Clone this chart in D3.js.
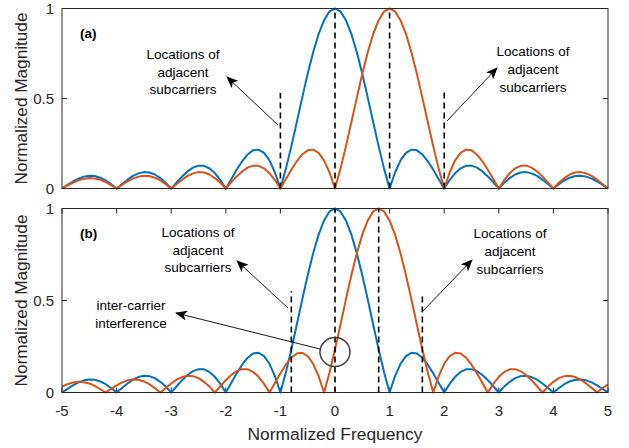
<!DOCTYPE html>
<html><head><meta charset="utf-8">
<script src="https://cdn.jsdelivr.net/npm/d3@7"></script>
<style>
html,body{margin:0;padding:0;background:#fff;}
text{font-family:"Liberation Sans",Arial,Helvetica,sans-serif;}
</style></head>
<body>
<svg id="chart" width="629" height="448"></svg>
<script>
// ---- data ----
const freq = d3.range(101).map(i => +(-5 + i * 0.1).toFixed(1));
const xTicks = [-5, -4, -3, -2, -1, 0, 1, 2, 3, 4, 5];
const yTicks = [0, 0.5, 1];
const yTickLabels = ["0", "0.5", "1"];

// |sinc| magnitude of subcarrier centred at 0 (both panels)
const blueMag = [0,.020,.039,.055,.066,.071,.069,.060,.045,.024,
 0,.025,.049,.070,.084,.091,.089,.078,.058,.032,
 0,.034,.067,.095,.116,.127,.126,.112,.085,.047,
 0,.052,.104,.151,.189,.212,.216,.198,.156,.089,
 0,.109,.234,.368,.505,.637,.757,.858,.935,.984,
 1,.984,.935,.858,.757,.637,.505,.368,.234,.109,
 0,.089,.156,.198,.216,.212,.189,.151,.104,.052,
 0,.047,.085,.112,.126,.127,.116,.095,.067,.034,
 0,.032,.058,.078,.089,.091,.084,.070,.049,.025,
 0,.024,.045,.060,.069,.071,.066,.055,.039,.020,0];

// panel (a): adjacent subcarrier centred at 1
const orangeMagA = [0,.017,.032,.045,.054,.058,.056,.049,.036,.019,
 0,.020,.039,.055,.066,.071,.069,.060,.045,.024,
 0,.025,.049,.070,.084,.091,.089,.078,.058,.032,
 0,.034,.067,.095,.116,.127,.126,.112,.085,.047,
 0,.052,.104,.151,.189,.212,.216,.198,.156,.089,
 0,.109,.234,.368,.505,.637,.757,.858,.935,.984,
 1,.984,.935,.858,.757,.637,.505,.368,.234,.109,
 0,.089,.156,.198,.216,.212,.189,.151,.104,.052,
 0,.047,.085,.112,.126,.127,.116,.095,.067,.034,
 0,.032,.058,.078,.089,.091,.084,.070,.049,.025,0];

// panel (b): adjacent subcarrier with frequency offset, centred at 0.8
const orangeMagB = [.032,.045,.054,.058,.056,.049,.036,.019,
 0,.020,.039,.055,.066,.071,.069,.060,.045,.024,
 0,.025,.049,.070,.084,.091,.089,.078,.058,.032,
 0,.034,.067,.095,.116,.127,.126,.112,.085,.047,
 0,.052,.104,.151,.189,.212,.216,.198,.156,.089,
 0,.109,.234,.368,.505,.637,.757,.858,.935,.984,
 1,.984,.935,.858,.757,.637,.505,.368,.234,.109,
 0,.089,.156,.198,.216,.212,.189,.151,.104,.052,
 0,.047,.085,.112,.126,.127,.116,.095,.067,.034,
 0,.032,.058,.078,.089,.091,.084,.070,.049,.025,
 0,.024,.045];

// dashed marker lines: [x, top value]
const dashesA = [[-1, 0.53], [0, 1], [1, 1], [2, 0.55]];
const dashesB = [[-0.8, 0.55], [0, 1], [0.8, 1], [1.6, 0.54]];

const annotText = ["Locations of", "adjacent", "subcarriers"];
const iciText = ["inter-carrier", "interference"];

// ---- drawing ----
const svg = d3.select("#chart");
const blue = "#0072BD", orange = "#D95319", axisCol = "#262626", txtCol = "#262626";

const defs = svg.append("defs");
defs.append("marker").attr("id", "ah").attr("viewBox", "0 0 12 10")
  .attr("refX", 11).attr("refY", 5).attr("markerWidth", 12).attr("markerHeight", 10)
  .attr("markerUnits", "userSpaceOnUse").attr("orient", "auto")
  .append("path").attr("d", "M0,0 L12,5 L0,10 L3,5 Z").attr("fill", "#000");

const x = d3.scaleLinear().domain([-5, 5]).range([62, 608]);

function panel(y0, y1, orangeMag, dashes, label, showX, id) {
  const y = d3.scaleLinear().domain([0, 1]).range([y0, y1]);
  const g = svg.append("g");
  defs.append("clipPath").attr("id", id).append("rect")
    .attr("x", x(-5)).attr("y", y1 - 2).attr("width", x(5) - x(-5)).attr("height", y0 - y1 + 4);

  yTicks.forEach((t, i) => {
    g.append("line").attr("x1", x(-5)).attr("x2", x(-5) + 5).attr("y1", y(t)).attr("y2", y(t)).attr("stroke", axisCol);
    g.append("line").attr("x1", x(5)).attr("x2", x(5) - 5).attr("y1", y(t)).attr("y2", y(t)).attr("stroke", axisCol);
    g.append("text").attr("x", 54).attr("y", y(t) + 5).attr("text-anchor", "end")
      .attr("font-size", 15).attr("fill", txtCol).text(yTickLabels[i]);
  });
  if (showX) {
    xTicks.forEach(t => {
      g.append("line").attr("x1", x(t)).attr("x2", x(t)).attr("y1", y0).attr("y2", y0 - 5).attr("stroke", axisCol);
      g.append("line").attr("x1", x(t)).attr("x2", x(t)).attr("y1", y1).attr("y2", y1 + 5).attr("stroke", axisCol);
      g.append("text").attr("x", x(t)).attr("y", y0 + 23).attr("text-anchor", "middle")
        .attr("font-size", 15).attr("fill", txtCol).text(t);
    });
  }
  const line = d3.line().x(d => x(d[0])).y(d => y(d[1]));
  const cg = g.append("g").attr("clip-path", `url(#${id})`);
  cg.append("path").datum(freq.map((f, i) => [f, blueMag[i]])).attr("d", line)
    .attr("fill", "none").attr("stroke", blue).attr("stroke-width", 2).attr("stroke-linejoin", "round");
  cg.append("path").datum(freq.map((f, i) => [f, orangeMag[i]])).attr("d", line)
    .attr("fill", "none").attr("stroke", orange).attr("stroke-width", 2).attr("stroke-linejoin", "round");

  dashes.forEach(d => {
    g.append("line").attr("x1", x(d[0])).attr("x2", x(d[0])).attr("y1", y(0)).attr("y2", y(d[1]))
      .attr("stroke", "#000").attr("stroke-width", 1.6).attr("stroke-dasharray", "6,4");
  });

  g.append("rect").attr("x", x(-5)).attr("y", y1).attr("width", x(5) - x(-5)).attr("height", y0 - y1)
    .attr("fill", "none").attr("stroke", axisCol).attr("stroke-width", 1);

  g.append("text").attr("x", 80).attr("y", y1 + 29).attr("font-size", 13.5).attr("font-weight", "bold")
    .attr("fill", "#000").text(label);

  g.append("text").attr("transform", `translate(27,${(y0 + y1) / 2}) rotate(-90)`)
    .attr("text-anchor", "middle").attr("font-size", 17.2).attr("fill", txtCol).text("Normalized Magnitude");
  return g;
}

function textBlock(cx, ys, lines) {
  lines.forEach((l, i) => svg.append("text").attr("x", cx).attr("y", ys[i]).attr("text-anchor", "middle")
    .attr("font-size", 13.5).attr("fill", "#000").text(l));
}
function arrow(x1, y1, x2, y2) {
  svg.append("line").attr("x1", x1).attr("y1", y1).attr("x2", x2).attr("y2", y2)
    .attr("stroke", "#000").attr("stroke-width", 0.9).attr("marker-end", "url(#ah)");
}

panel(188.5, 8.5, orangeMagA, dashesA, "(a)", false, "clipA");
panel(392.5, 208.5, orangeMagB, dashesB, "(b)", true, "clipB");

svg.append("text").attr("x", 335).attr("y", 440).attr("text-anchor", "middle")
  .attr("font-size", 17.4).attr("fill", txtCol).text("Normalized Frequency");

// annotations panel (a)
textBlock(183, [59, 77, 94], annotText);
arrow(278, 125, 227, 77);
textBlock(533, [56, 74, 92], annotText);
arrow(447, 121, 497, 68);

// annotations panel (b)
textBlock(198, [237, 255, 272], annotText);
arrow(288, 308, 237, 261);
textBlock(510, [238, 256, 274], annotText);
arrow(422, 312, 472, 260);
textBlock(131, [310, 328], iciText);
arrow(320, 349, 176, 313);
svg.append("ellipse").attr("cx", 335).attr("cy", 352).attr("rx", 15).attr("ry", 14.5)
  .attr("fill", "none").attr("stroke", "#404040").attr("stroke-width", 1.5);
</script>
</body></html>
